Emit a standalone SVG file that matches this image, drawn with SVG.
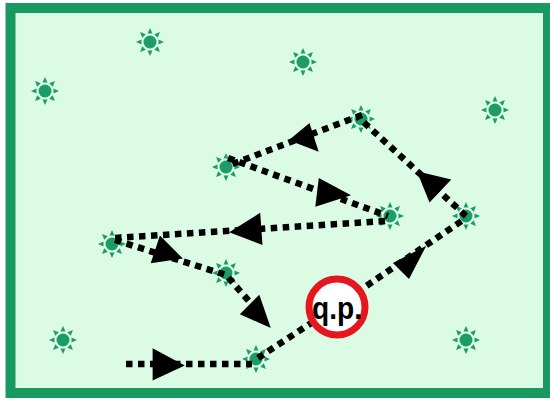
<svg xmlns="http://www.w3.org/2000/svg" xmlns:xlink="http://www.w3.org/1999/xlink" width="550" height="401" viewBox="0 0 550 401">
<style>
.frame{fill:#dcfbe5;stroke:#17995f;stroke-width:10}
.path{fill:none;stroke:#000;stroke-width:6.5;stroke-dasharray:6.5 5.5}
.head{fill:#000}
.dot{fill:#1c9c68}
.qp{fill:#fff;stroke:#e5161e;stroke-width:7}
.lbl{font-family:"Liberation Sans",Arial,sans-serif;font-weight:bold;font-size:32px;fill:#000}
</style>
<defs>
<g id="star">
<circle class="dot" r="6.5"/>
<g class="dot">
<polygon points="-2.5,-8.5 2.5,-8.5 0,-14"/>
<polygon points="-2.5,-8.5 2.5,-8.5 0,-14" transform="rotate(45)"/>
<polygon points="-2.5,-8.5 2.5,-8.5 0,-14" transform="rotate(90)"/>
<polygon points="-2.5,-8.5 2.5,-8.5 0,-14" transform="rotate(135)"/>
<polygon points="-2.5,-8.5 2.5,-8.5 0,-14" transform="rotate(180)"/>
<polygon points="-2.5,-8.5 2.5,-8.5 0,-14" transform="rotate(225)"/>
<polygon points="-2.5,-8.5 2.5,-8.5 0,-14" transform="rotate(270)"/>
<polygon points="-2.5,-8.5 2.5,-8.5 0,-14" transform="rotate(315)"/>
</g>
</g>
</defs>
<rect class="frame" x="10.5" y="8" width="537.5" height="385"/>
<g id="stars">
<g id="n1"><use href="#star" x="150" y="42"/></g>
<g id="n2"><use href="#star" x="303" y="62"/></g>
<g id="n3"><use href="#star" x="45" y="91"/></g>
<g id="n4"><use href="#star" x="495" y="110"/></g>
<g id="n5"><use href="#star" x="361" y="119"/></g>
<g id="n6"><use href="#star" x="226" y="167"/></g>
<g id="n7"><use href="#star" x="390" y="216"/></g>
<g id="n8"><use href="#star" x="466" y="216"/></g>
<g id="n9"><use href="#star" x="112" y="244"/></g>
<g id="n10"><use href="#star" x="226" y="273"/></g>
<g id="n11"><use href="#star" x="63" y="340"/></g>
<g id="n12"><use href="#star" x="466" y="340"/></g>
<g id="n13"><use href="#star" x="256" y="359"/></g>
</g>
<g id="connectors">
<path class="path" d="M126 364 L252 364"/>
<path class="path" d="M258 358 L337 306"/>
<path class="path" d="M337 306 L466 218"/>
<path class="path" d="M466 216 L358 117"/>
<path class="path" d="M362 115 L230 165"/>
<path class="path" d="M228 158 L388 216"/>
<path class="path" d="M385 221 L115 238"/>
<path class="path" d="M115 240 L226 275 L262 316"/>
<polygon class="head" points="152.6,348.2 152.6,380.4 184.8,365.4"/>
<polygon class="head" points="392.9,263 409,279.1 426.3,245.7"/>
<polygon class="head" points="416.9,171.3 429.5,202.4 451.3,179.4"/>
<polygon class="head" points="288.8,140.3 309.5,123 318.7,151.8"/>
<polygon class="head" points="318.8,178 315.3,206.8 351,195.3"/>
<polygon class="head" points="229.2,232.3 260.2,212.8 262.5,245"/>
<polygon class="head" points="159.9,235.6 150.7,263.2 182.9,258.6"/>
<polygon class="head" points="259.3,294.7 239.8,314.3 270.8,328.1"/>
</g>
<g id="qp">
<circle class="qp" cx="337" cy="307" r="28"/>
<text class="lbl" x="337" y="319" text-anchor="middle" textLength="50" lengthAdjust="spacingAndGlyphs">q.p.</text>
</g>
</svg>
